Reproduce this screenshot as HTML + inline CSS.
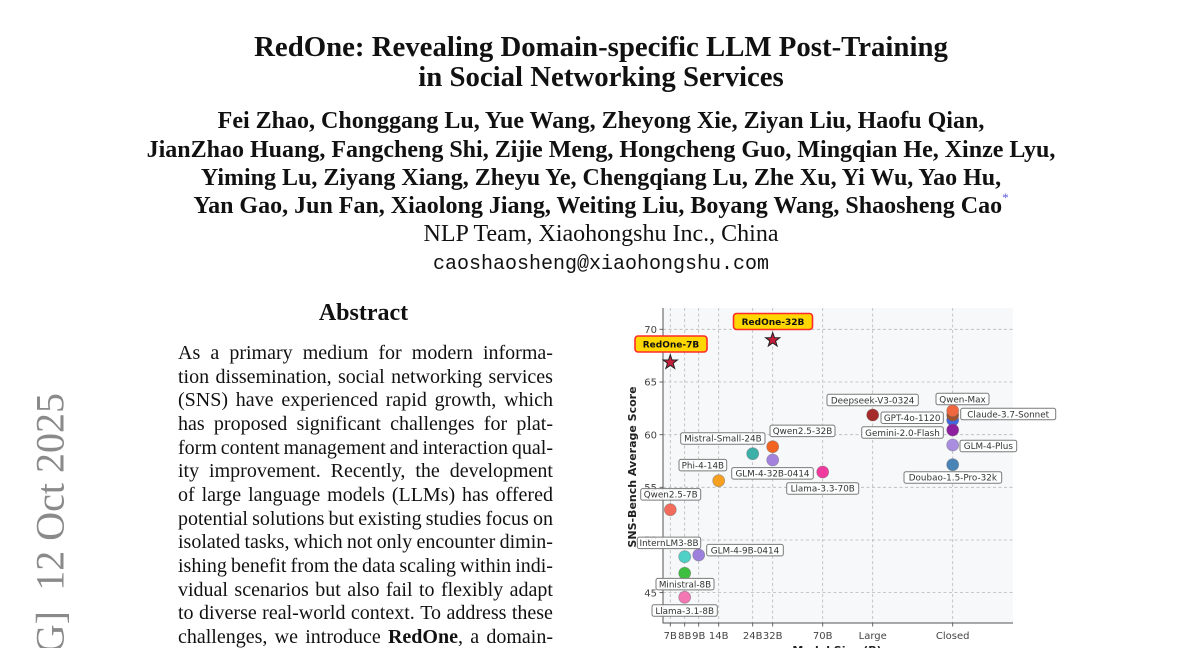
<!DOCTYPE html>
<html>
<head>
<meta charset="utf-8">
<style>
  html,body{margin:0;padding:0;background:#fff;}
  body{width:1200px;height:648px;position:relative;overflow:hidden;}
  .c{position:absolute;left:0;width:1202px;text-align:center;white-space:nowrap;line-height:1;color:#111;}
  .t{font-family:"Liberation Serif",serif;font-weight:bold;font-size:28.8px;}
  .a{font-family:"Liberation Serif",serif;font-weight:bold;font-size:24px;}
  .n{font-family:"Liberation Serif",serif;font-size:24px;}
  .m{font-family:"Liberation Mono",monospace;font-size:20px;}
  .abs{position:absolute;left:176px;width:375px;text-align:center;font-family:"Liberation Serif",serif;font-weight:bold;font-size:24px;line-height:1;color:#111;}
  .body{position:absolute;left:178px;top:342px;width:375px;font-family:"Liberation Serif",serif;font-size:20px;line-height:23.67px;color:#111;}
  .body .l{display:flex;justify-content:space-between;white-space:nowrap;height:23.67px;}
  sup.s{color:#5a5ad6;font-size:13px;font-weight:normal;vertical-align:top;position:relative;top:-3px;}
</style>
</head>
<body>

<div class="c t" style="top:32.6px;">RedOne: Revealing Domain-specific LLM Post-Training</div>
<div class="c t" style="top:62.6px;">in Social Networking Services</div>

<div class="c a" style="top:109.2px;">Fei Zhao, Chonggang Lu, Yue Wang, Zheyong Xie, Ziyan Liu, Haofu Qian,</div>
<div class="c a" style="top:137.6px;">JianZhao Huang, Fangcheng Shi, Zijie Meng, Hongcheng Guo, Mingqian He, Xinze Lyu,</div>
<div class="c a" style="top:165.9px;">Yiming Lu, Ziyang Xiang, Zheyu Ye, Chengqiang Lu, Zhe Xu, Yi Wu, Yao Hu,</div>
<div class="c a" style="top:194.2px;">Yan Gao, Jun Fan, Xiaolong Jiang, Weiting Liu, Boyang Wang, Shaosheng Cao<sup class="s">*</sup></div>
<div class="c n" style="top:222.2px;">NLP Team, Xiaohongshu Inc., China</div>
<div class="c m" style="top:254.7px;">caoshaosheng@xiaohongshu.com</div>

<div class="abs" style="top:300.9px;">Abstract</div>

<div class="body">
  <div class="l"><span>As</span><span>a</span><span>primary</span><span>medium</span><span>for</span><span>modern</span><span>informa-</span></div>
  <div class="l"><span>tion</span><span>dissemination,</span><span>social</span><span>networking</span><span>services</span></div>
  <div class="l"><span>(SNS)</span><span>have</span><span>experienced</span><span>rapid</span><span>growth,</span><span>which</span></div>
  <div class="l"><span>has</span><span>proposed</span><span>significant</span><span>challenges</span><span>for</span><span>plat-</span></div>
  <div class="l"><span>form</span><span>content</span><span>management</span><span>and</span><span>interaction</span><span>qual-</span></div>
  <div class="l"><span>ity</span><span>improvement.</span><span>Recently,</span><span>the</span><span>development</span></div>
  <div class="l"><span>of</span><span>large</span><span>language</span><span>models</span><span>(LLMs)</span><span>has</span><span>offered</span></div>
  <div class="l"><span>potential</span><span>solutions</span><span>but</span><span>existing</span><span>studies</span><span>focus</span><span>on</span></div>
  <div class="l"><span>isolated</span><span>tasks,</span><span>which</span><span>not</span><span>only</span><span>encounter</span><span>dimin-</span></div>
  <div class="l"><span>ishing</span><span>benefit</span><span>from</span><span>the</span><span>data</span><span>scaling</span><span>within</span><span>indi-</span></div>
  <div class="l"><span>vidual</span><span>scenarios</span><span>but</span><span>also</span><span>fail</span><span>to</span><span>flexibly</span><span>adapt</span></div>
  <div class="l"><span>to</span><span>diverse</span><span>real-world</span><span>context.</span><span>To</span><span>address</span><span>these</span></div>
  <div class="l"><span>challenges,</span><span>we</span><span>introduce</span><span><b>RedOne</b>,</span><span>a</span><span>domain-</span></div>
</div>

<svg width="1200" height="648" viewBox="0 0 1200 648" style="position:absolute;left:0;top:0;" font-family="DejaVu Sans, sans-serif">
  <!-- arXiv stamp -->
  <text transform="translate(63.3,393) rotate(-90)" text-anchor="end" font-family="Liberation Serif, serif" font-size="40" fill="#8a8a8a">12 Oct 2025</text>
  <text transform="translate(63.3,611) rotate(-90)" text-anchor="end" font-family="Liberation Serif, serif" font-size="40" fill="#8a8a8a">arXiv:2507.10605v2 [cs.LG]</text>

  <!-- plot background -->
  <rect x="663" y="308" width="350" height="315" fill="#f7f8fa"/>
  <!-- grid -->
  <g stroke="#b8b8b8" stroke-width="0.8" stroke-dasharray="3,2.5" fill="none">
    <line x1="670.3" y1="308" x2="670.3" y2="623"/>
    <line x1="684.7" y1="308" x2="684.7" y2="623"/>
    <line x1="698.7" y1="308" x2="698.7" y2="623"/>
    <line x1="718.7" y1="308" x2="718.7" y2="623"/>
    <line x1="752.7" y1="308" x2="752.7" y2="623"/>
    <line x1="772.7" y1="308" x2="772.7" y2="623"/>
    <line x1="822.7" y1="308" x2="822.7" y2="623"/>
    <line x1="872.7" y1="308" x2="872.7" y2="623"/>
    <line x1="952.7" y1="308" x2="952.7" y2="623"/>
    <line x1="663" y1="329.3" x2="1013" y2="329.3"/>
    <line x1="663" y1="382" x2="1013" y2="382"/>
    <line x1="663" y1="434.7" x2="1013" y2="434.7"/>
    <line x1="663" y1="487.3" x2="1013" y2="487.3"/>
    <line x1="663" y1="540" x2="1013" y2="540"/>
    <line x1="663" y1="592.6" x2="1013" y2="592.6"/>
  </g>
  <!-- spines -->
  <line x1="663" y1="308" x2="663" y2="623.5" stroke="#555" stroke-width="1"/>
  <line x1="662.5" y1="623" x2="1013" y2="623" stroke="#555" stroke-width="1"/>
  <!-- ticks -->
  <g stroke="#555" stroke-width="0.9">
    <line x1="659.5" y1="329.3" x2="663" y2="329.3"/>
    <line x1="659.5" y1="382" x2="663" y2="382"/>
    <line x1="659.5" y1="434.7" x2="663" y2="434.7"/>
    <line x1="659.5" y1="487.3" x2="663" y2="487.3"/>
    <line x1="659.5" y1="540" x2="663" y2="540"/>
    <line x1="659.5" y1="592.6" x2="663" y2="592.6"/>
    <line x1="670.3" y1="623" x2="670.3" y2="626.5"/>
    <line x1="684.7" y1="623" x2="684.7" y2="626.5"/>
    <line x1="698.7" y1="623" x2="698.7" y2="626.5"/>
    <line x1="718.7" y1="623" x2="718.7" y2="626.5"/>
    <line x1="752.7" y1="623" x2="752.7" y2="626.5"/>
    <line x1="772.7" y1="623" x2="772.7" y2="626.5"/>
    <line x1="822.7" y1="623" x2="822.7" y2="626.5"/>
    <line x1="872.7" y1="623" x2="872.7" y2="626.5"/>
    <line x1="952.7" y1="623" x2="952.7" y2="626.5"/>
  </g>
  <!-- y tick labels -->
  <g font-size="10" fill="#444" text-anchor="end">
    <text x="657" y="333">70</text>
    <text x="657" y="385.7">65</text>
    <text x="657" y="438.4">60</text>
    <text x="657" y="491">55</text>
    <text x="657" y="543.7">50</text>
    <text x="657" y="596.3">45</text>
  </g>
  <!-- x tick labels -->
  <g font-size="10" fill="#444" text-anchor="middle">
    <text x="670.3" y="639">7B</text>
    <text x="684.7" y="639">8B</text>
    <text x="698.7" y="639">9B</text>
    <text x="718.7" y="639">14B</text>
    <text x="752.7" y="639">24B</text>
    <text x="772.7" y="639">32B</text>
    <text x="822.7" y="639">70B</text>
    <text x="872.7" y="639">Large</text>
    <text x="952.7" y="639">Closed</text>
  </g>
  <!-- axis labels -->
  <text transform="translate(636,467) rotate(-90)" text-anchor="middle" font-size="11" font-weight="bold" fill="#222">SNS-Bench Average Score</text>
  <text x="837" y="654" text-anchor="middle" font-size="11" font-weight="bold" fill="#222">Model Size (B)</text>

  <!-- dots -->
  <g stroke="#666" stroke-opacity="0.45" stroke-width="0.8">
    <circle cx="670.3" cy="509.7" r="6" fill="#f26b5b"/>
    <circle cx="684.7" cy="556.7" r="6" fill="#4fd1c8"/>
    <circle cx="698.7" cy="555" r="6" fill="#9c80dc"/>
    <circle cx="684.7" cy="573.3" r="6" fill="#3fbf3f"/>
    <circle cx="684.7" cy="597.3" r="6" fill="#f277b2"/>
    <circle cx="718.7" cy="480.7" r="6" fill="#f5a021"/>
    <circle cx="752.7" cy="453.7" r="6" fill="#3bb0a8"/>
    <circle cx="772.7" cy="446.7" r="6" fill="#f26422"/>
    <circle cx="772.7" cy="460" r="6" fill="#a282dc"/>
    <circle cx="822.7" cy="472" r="6" fill="#f03a9e"/>
    <circle cx="872.7" cy="415" r="6" fill="#a52a2a"/>
    <circle cx="952.7" cy="420" r="6" fill="#4169e1"/>
    <circle cx="952.7" cy="415" r="6" fill="#a0522d"/>
    <circle cx="952.7" cy="410.7" r="6" fill="#f0663f"/>
    <circle cx="952.7" cy="430" r="6" fill="#8e1f9e"/>
    <circle cx="952.7" cy="445" r="6" fill="#a98ee0"/>
    <circle cx="952.7" cy="464.7" r="6" fill="#4a84b6"/>
  </g>
  <!-- stars -->
  <g fill="#c41e3a" stroke="#222" stroke-width="1" stroke-linejoin="miter">
    <polygon transform="translate(670.3,362.3)" points="0,-7.5 1.763,-2.427 7.133,-2.318 2.853,0.927 4.408,6.068 0,3 -4.408,6.068 -2.853,0.927 -7.133,-2.318 -1.763,-2.427"/>
    <polygon transform="translate(772.7,340)" points="0,-7.5 1.763,-2.427 7.133,-2.318 2.853,0.927 4.408,6.068 0,3 -4.408,6.068 -2.853,0.927 -7.133,-2.318 -1.763,-2.427"/>
  </g>

  <!-- label boxes -->
  <g fill="#ffffff" fill-opacity="0.88" stroke="#7a7a7a" stroke-width="1">
    <rect x="827" y="394.3" width="91.3" height="11.5" rx="2"/>
    <rect x="881" y="412" width="62.3" height="11.5" rx="2"/>
    <rect x="936" y="393.3" width="53" height="11.5" rx="2"/>
    <rect x="960.7" y="408.3" width="95" height="11.5" rx="2"/>
    <rect x="861.7" y="426.8" width="81.6" height="11.5" rx="2"/>
    <rect x="960" y="440.2" width="56.7" height="11.5" rx="2"/>
    <rect x="904" y="471.7" width="97.7" height="11.5" rx="2"/>
    <rect x="770" y="425.1" width="65" height="11.5" rx="2"/>
    <rect x="680.7" y="432.7" width="84.3" height="11.5" rx="2"/>
    <rect x="731.7" y="467.6" width="81.6" height="11.5" rx="2"/>
    <rect x="786.7" y="482.7" width="72" height="11.5" rx="2"/>
    <rect x="679" y="459.4" width="47.7" height="11.5" rx="2"/>
    <rect x="640.7" y="488.6" width="60" height="11.5" rx="2"/>
    <rect x="637.3" y="537.1" width="63.4" height="11.5" rx="2"/>
    <rect x="706.7" y="544.4" width="76.6" height="11.5" rx="2"/>
    <rect x="656" y="578.4" width="58" height="11.5" rx="2"/>
    <rect x="652" y="604.8" width="65.3" height="11.5" rx="2"/>
  </g>
  <g font-size="8.8" fill="#333" text-anchor="middle">
    <text x="872.65" y="403.3">Deepseek-V3-0324</text>
    <text x="912.15" y="421">GPT-4o-1120</text>
    <text x="962.5" y="402.3">Qwen-Max</text>
    <text x="1008.2" y="417.3">Claude-3.7-Sonnet</text>
    <text x="902.5" y="435.8">Gemini-2.0-Flash</text>
    <text x="988.35" y="449.2">GLM-4-Plus</text>
    <text x="952.85" y="480.7">Doubao-1.5-Pro-32k</text>
    <text x="802.5" y="434.1">Qwen2.5-32B</text>
    <text x="722.85" y="441.7">Mistral-Small-24B</text>
    <text x="772.5" y="476.6">GLM-4-32B-0414</text>
    <text x="822.7" y="491.7">Llama-3.3-70B</text>
    <text x="702.85" y="468.4">Phi-4-14B</text>
    <text x="670.7" y="497.6">Qwen2.5-7B</text>
    <text x="669" y="546.1">InternLM3-8B</text>
    <text x="745" y="553.4">GLM-4-9B-0414</text>
    <text x="685" y="587.4">Ministral-8B</text>
    <text x="684.65" y="613.8">Llama-3.1-8B</text>
  </g>

  <!-- RedOne labels -->
  <rect x="635" y="336" width="72" height="16" rx="3" fill="#ffd700" stroke="#ff2a2a" stroke-width="1.6"/>
  <text x="671" y="347.3" text-anchor="middle" font-size="9" font-weight="bold" fill="#111">RedOne-7B</text>
  <rect x="733.5" y="313.5" width="79" height="16" rx="3" fill="#ffd700" stroke="#ff2a2a" stroke-width="1.6"/>
  <text x="773" y="324.8" text-anchor="middle" font-size="9" font-weight="bold" fill="#111">RedOne-32B</text>
</svg>

</body>
</html>
